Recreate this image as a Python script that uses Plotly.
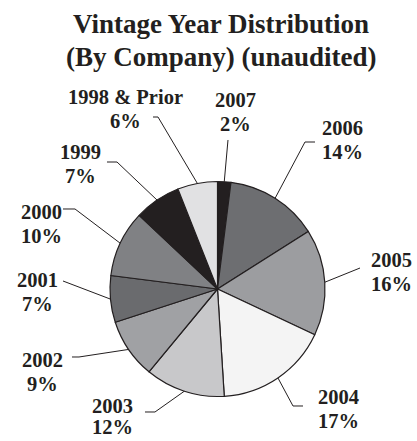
import math
import plotly.graph_objects as go

# Vintage year shares, clockwise from 12 o'clock
years = ["2007", "2006", "2005", "2004", "2003", "2002", "2001", "2000", "1999", "1998 & Prior"]
shares = [2, 14, 16, 17, 12, 9, 7, 10, 7, 6]
slice_colors = ["#231f20", "#6d6e71", "#9c9da0", "#f4f4f4", "#c8c8ca",
                "#a0a1a4", "#6a6b6e", "#808184", "#231f20", "#e1e1e3"]

# Label placement in pixels:
# (text centre x, first line y, second line gap, leader start x, leader start y, elbow x)
label_layout = {
    "2007":         (235, 100, 23.5, 228, 140, None),
    "2006":         (342, 128, 23.5, 315, 142, 305),
    "2005":         (391, 260, 23.5, 360, 268, None),
    "2004":         (338, 397, 23.5, 303, 406, 293),
    "2003":         (112, 406, 20.5, 145, 412, 155),
    "2002":         (42, 360, 23.5, 72, 357, 79),
    "2001":         (37, 280, 23.5, 63, 281, None),
    "2000":         (41, 212, 23.5, 63, 209, 75),
    "1999":         (80, 152, 23.5, 107, 162, 117),
    "1998 & Prior": (125, 97, 23.5, 153, 117, 158),
}

W, H = 417, 441
CX, CY, R = 217.5, 289, 107.5
INK = "#231f20"
FONT = "Liberation Serif"


def px(x):
    return x / W


def py(y):
    return 1 - y / H


fig = go.Figure(go.Pie(
    labels=years,
    values=shares,
    sort=False,
    direction="clockwise",
    rotation=0,
    textinfo="none",
    hoverinfo="label+percent",
    marker=dict(colors=slice_colors, line=dict(color=INK, width=1.2)),
    domain=dict(x=[px(CX - R), px(CX + R)], y=[py(CY + R), py(CY - R)]),
    showlegend=False,
))

annotations = []
shapes = []
total = sum(shares)
cum = 0
for name, val in zip(years, shares):
    mid = (cum + val / 2) / total * 2 * math.pi
    cum += val
    ex = CX + R * math.sin(mid)
    ey = CY - R * math.cos(mid)
    tx, ty, gap, lx, ly, elbow = label_layout[name]
    pts = [(lx, ly)]
    if elbow is not None:
        pts.append((elbow, ly))
    pts.append((ex, ey))
    path = "M " + " L ".join(f"{px(a):.5f},{py(b):.5f}" for a, b in pts)
    shapes.append(dict(type="path", path=path, xref="paper", yref="paper",
                       line=dict(color=INK, width=1)))
    annotations.append(dict(x=px(tx), y=py(ty), xref="paper", yref="paper",
                            text=f"<b>{name}</b>", showarrow=False,
                            xanchor="center", yanchor="middle",
                            font=dict(family=FONT, size=20.5, color=INK)))
    annotations.append(dict(x=px(tx), y=py(ty + gap), xref="paper", yref="paper",
                            text=f"<b>{val}%</b>", showarrow=False,
                            xanchor="center", yanchor="middle",
                            font=dict(family=FONT, size=20.5, color=INK)))

for line, y in [("Vintage Year Distribution", 24), ("(By Company) (unaudited)", 57)]:
    annotations.append(dict(x=px(221), y=py(y), xref="paper", yref="paper",
                            text=f"<b>{line}</b>", showarrow=False,
                            xanchor="center", yanchor="middle",
                            font=dict(family=FONT, size=27, color=INK)))

fig.update_layout(
    width=W, height=H,
    margin=dict(l=0, r=0, t=0, b=0),
    paper_bgcolor="white", plot_bgcolor="white",
    annotations=annotations,
    shapes=shapes,
)

fig.write_html("out.html")
